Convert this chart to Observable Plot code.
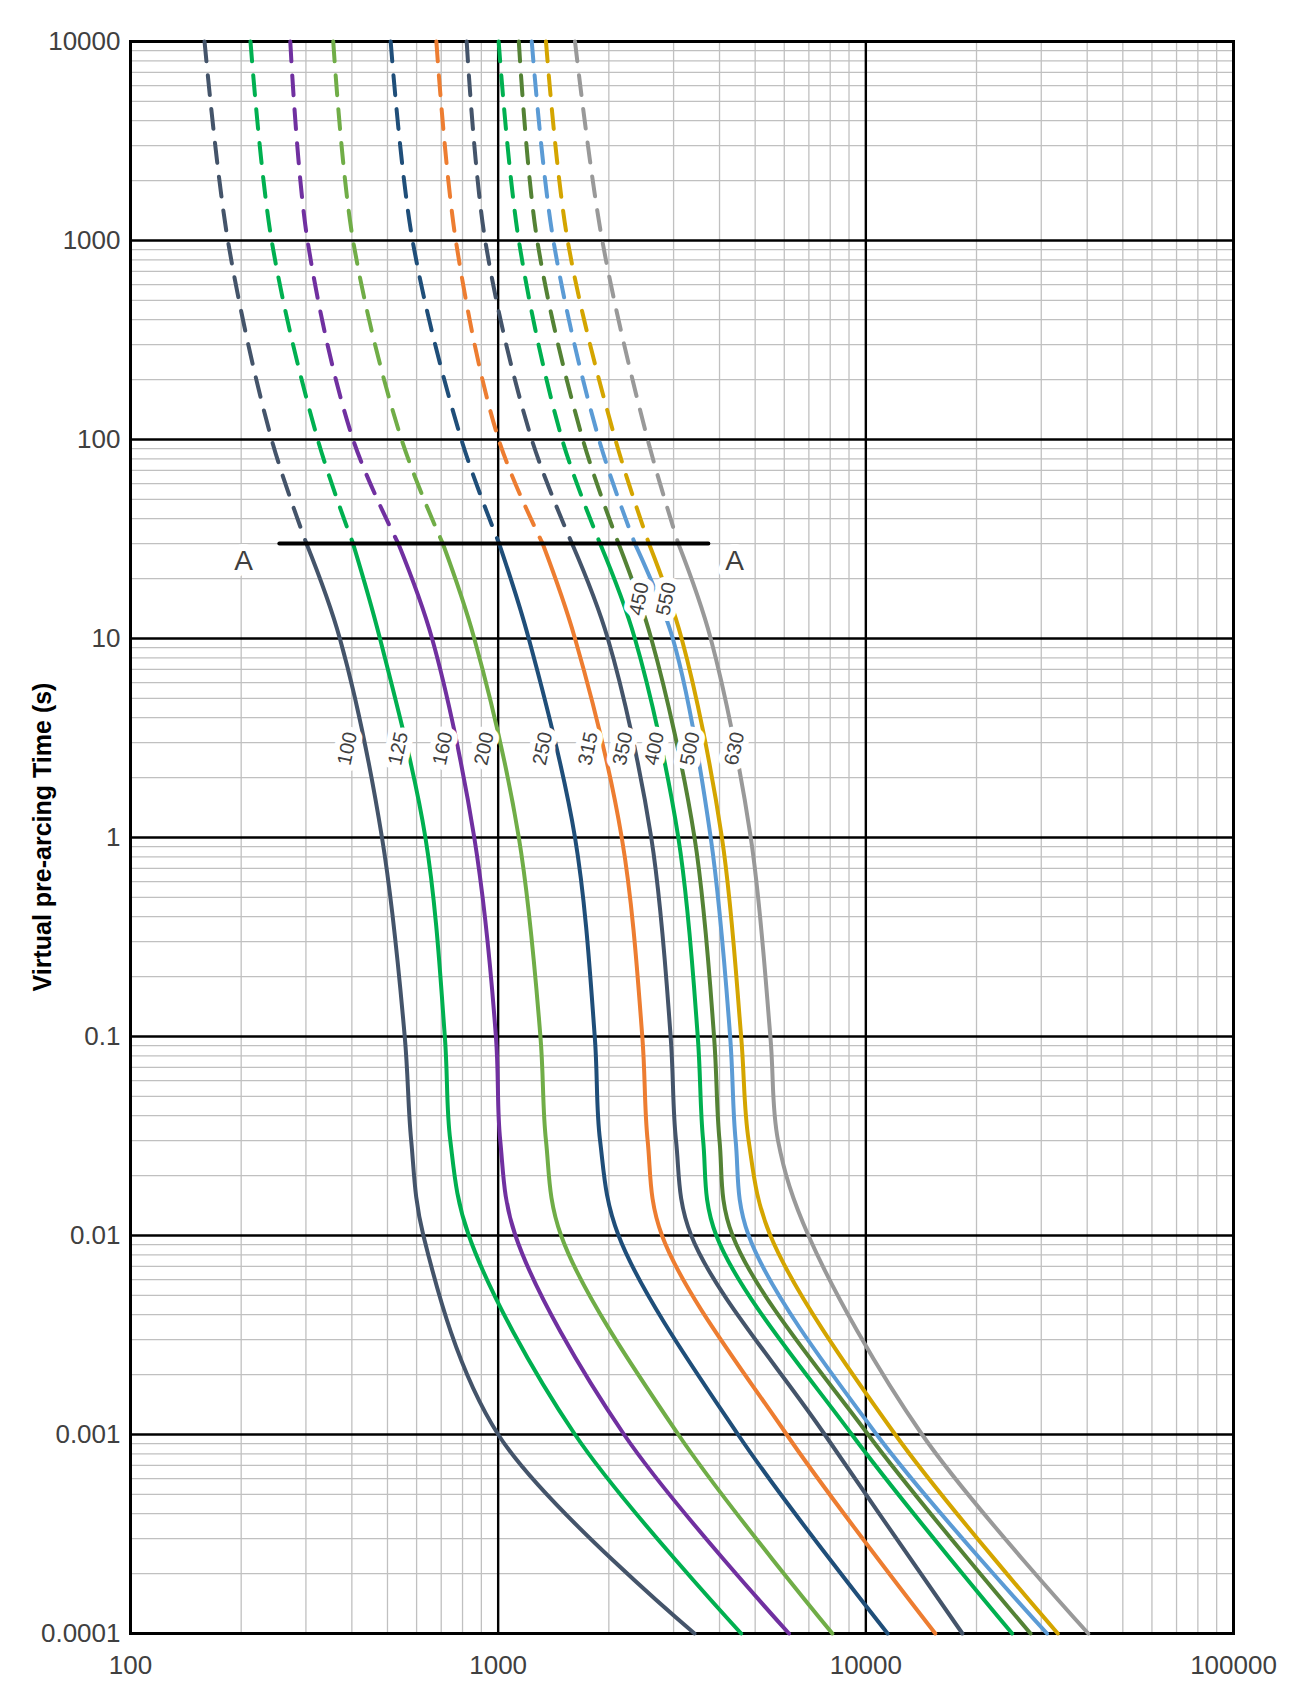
<!DOCTYPE html>
<html><head><meta charset="utf-8">
<script src="https://cdn.jsdelivr.net/npm/d3@7"></script>
<script src="https://cdn.jsdelivr.net/npm/@observablehq/plot@0.6"></script>
<style>body{margin:0;background:#fff;font-family:"Liberation Sans",Arial,sans-serif}</style>
</head><body><div id="chart"></div>
<script>
const times = [10000, 1000, 100, 30, 10, 1, 0.1, 0.03, 0.01, 0.001, 0.0001];
const ratings = ["100","125","160","200","250","315","350","400","450","500","550","630"];
const colors = ["#44546a","#00b050","#7030a0","#70ad47","#1f4e79","#ed7d31","#44546a","#00b050","#548235","#5b9bd5","#d4a500","#999999"];
const currents = {
  "100": [159,184,242,301,371,483,557,580,626,1000,3420],
  "125": [212,242,323,403,477,634,716,741,832,1618,4580],
  "160": [272,303,403,535,661,861,986,1013,1114,2200,6180],
  "200": [356,403,546,707,861,1138,1303,1349,1483,3090,8110],
  "250": [510,585,794,1006,1211,1618,1831,1893,2125,4490,11460],
  "315": [679,767,1003,1321,1618,2168,2466,2550,2790,6090,15450],
  "350": [821,922,1234,1588,1987,2608,2945,3046,3350,7730,18310],
  "400": [1003,1138,1493,1893,2354,3090,3490,3610,3920,9160,25000],
  "450": [1138,1277,1699,2125,2608,3420,3865,4000,4340,10140,28050],
  "500": [1234,1413,1880,2354,2985,3785,4275,4425,4800,10700,31100],
  "550": [1349,1545,2083,2570,3155,4060,4580,4800,5500,12020,33270],
  "630": [1618,1919,2550,3090,3785,4864,5500,5770,6980,14220,40270]
};
const labelX = [389,535,707,916,1321,1757,2183,2660,2418,3327,2865,4395];
const labelT = [2.8,2.8,2.8,2.8,2.8,2.8,2.8,2.8,15.8,2.8,15.8,2.8];
const lineA = [254, 3730];
const lineAT = 30;
const aLabelX = [203, 4395];
const aLabelT = 24.5;
const yTicks = [0.0001,0.001,0.01,0.1,1,10,100,1000,10000];
const yTickLabels = ["0.0001","0.001","0.01","0.1","1","10","100","1000","10000"];
const xTicks = [100,1000,10000,100000];

const dashed = [], solid = [];
ratings.forEach((r,i)=>{
  times.forEach((t,j)=>{
    const p = {r, c: colors[i], x: currents[r][j], t};
    if (t >= 30) dashed.push(p);
    if (t <= 30) solid.push(p);
  });
});
const minorX = [], minorY = [];
for (let e=2;e<5;e++) for (let k=2;k<10;k++) minorX.push(k*10**e);
for (let e=-4;e<4;e++) for (let k=2;k<10;k++) minorY.push(k*10**e);
const labels = ratings.map((r,i)=>({r, x: labelX[i], t: labelT[i]}));
const yFmt = d => yTickLabels[yTicks.findIndex(v => Math.abs(Math.log10(v) - Math.log10(d)) < 1e-6)];

const chart = Plot.plot({
  width: 1290, height: 1702,
  marginLeft: 130, marginRight: 57, marginTop: 41, marginBottom: 69,
  x: {type:"log", domain:[100,100000], ticks: xTicks, tickFormat: d=>String(d), tickSize: 0, tickPadding: 22, label: null},
  y: {type:"log", domain:[0.0001,10000], ticks: yTicks, tickFormat: yFmt, tickSize: 0, tickPadding: 10, label: null},
  style: {fontSize: "26px", fontFamily: "Liberation Sans, Arial, sans-serif", color:"#404040"},
  marks: [
    Plot.ruleX(minorX, {stroke:"#c0c0c0", strokeWidth:1.3}),
    Plot.ruleY(minorY, {stroke:"#c0c0c0", strokeWidth:1.3}),
    Plot.ruleX(xTicks, {stroke:"#000", strokeWidth:2.4}),
    Plot.ruleY(yTicks, {stroke:"#000", strokeWidth:2.4}),
    Plot.frame({stroke:"#000", strokeWidth:3}),
    Plot.line(dashed, {x:"x", y:"t", z:"r", stroke:"c", strokeWidth:4, strokeDasharray:"20,14", curve:"catmull-rom"}),
    Plot.line(solid, {x:"x", y:"t", z:"r", stroke:"c", strokeWidth:4, curve:"catmull-rom"}),
    Plot.line([{x:lineA[0],t:lineAT},{x:lineA[1],t:lineAT}], {x:"x", y:"t", stroke:"#000", strokeWidth:4}),
    Plot.text([0,1].map(i=>({x:aLabelX[i], t:aLabelT})), {x:"x", y:"t", text:()=>"A", fontSize:28, fill:"#404040", stroke:"#fff", strokeWidth:14}),
    Plot.text(labels, {x:"x", y:"t", text:"r", rotate:-78, fontSize:20, fill:"#404040", stroke:"#fff", strokeWidth:12})
  ]
});
chart.style.position = "absolute"; chart.style.left = "0"; chart.style.top = "0";
document.getElementById("chart").appendChild(chart);
const yl = document.createElement("div");
yl.textContent = "Virtual pre-arcing Time (s)";
yl.style.cssText = "position:absolute;left:42px;top:837px;transform:translate(-50%,-50%) rotate(-90deg);font-weight:bold;font-size:25px;white-space:nowrap;color:#000";
document.body.appendChild(yl);
</script></body></html>
